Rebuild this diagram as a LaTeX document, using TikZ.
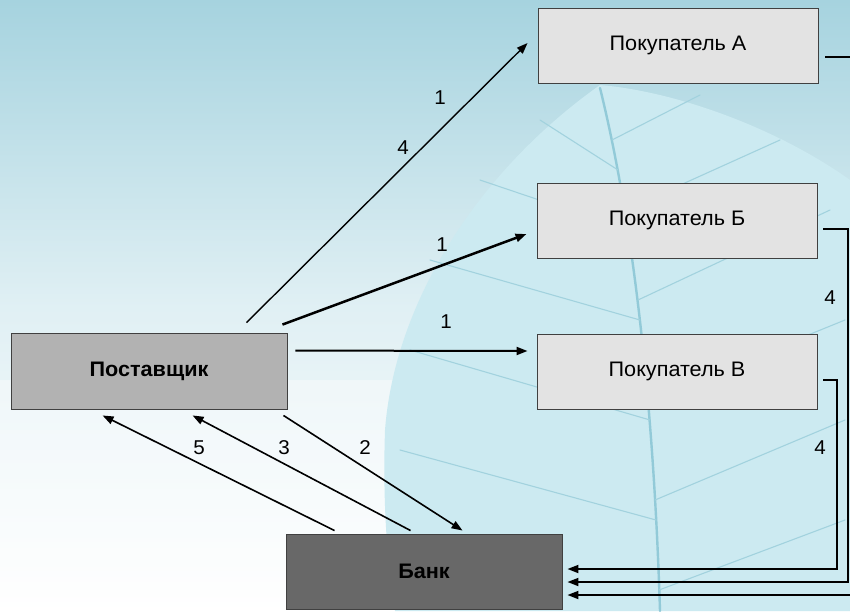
\documentclass[tikz,border=0pt]{standalone}
\usepackage{fontspec}
\setmainfont{Liberation Sans}
\newfontfamily\lab[FakeStretch=1.03]{Liberation Sans}
\usetikzlibrary{arrows.meta,calc}
\definecolor{skyb}{RGB}{166,211,223}
\definecolor{leaff}{RGB}{204,234,241}
\definecolor{veinc}{RGB}{146,202,216}
\definecolor{buyf}{RGB}{227,227,227}
\definecolor{supf}{RGB}{178,178,178}
\definecolor{bankf}{RGB}{104,104,104}
\tikzset{
  box/.style={draw=black!75, line width=0.9pt, minimum width=280pt, minimum height=75pt, inner sep=0pt, font=\lab\fontsize{21}{23}\selectfont},
  arr/.style={-{Triangle[length=11pt,width=8pt]}, line width=1.6pt, black},
  lbl/.style={font=\lab\fontsize{20}{22}\selectfont, inner sep=0pt},
  vein/.style={veinc, line width=2.4pt, line cap=round},
  thinvein/.style={veinc!85, line width=1.1pt, line cap=round}
}
\begin{document}
\begin{tikzpicture}[x=1pt,y=-1pt]
\useasboundingbox (0,0) rectangle (850,611);
\clip (0,0) rectangle (850,611);
% background
\shade[top color=skyb, bottom color=white, middle color=skyb!35] (0,0) rectangle (850,611);
\fill[white, opacity=0.35] (0,380) rectangle (850,611);
% leaf
\fill[leaff] (600,85) .. controls (480,170) and (395,300) .. (385,430) .. controls (382,520) and (390,580) .. (395,611) -- (850,611) -- (850,180) .. controls (780,130) and (680,92) .. (600,85) -- cycle;
\draw[vein] (600,88) .. controls (640,250) and (655,450) .. (660,611);
\draw[thinvein] (618,170) -- (540,120);
\draw[thinvein] (628,230) -- (480,180);
\draw[thinvein] (640,320) -- (430,260);
\draw[thinvein] (650,420) -- (410,350);
\draw[thinvein] (656,520) -- (400,450);
\draw[thinvein] (612,140) -- (700,95);
\draw[thinvein] (625,210) -- (780,140);
\draw[thinvein] (638,300) -- (830,210);
\draw[thinvein] (648,400) -- (845,320);
\draw[thinvein] (655,500) -- (845,420);
\draw[thinvein] (659,590) -- (845,520);
% nodes
\node[box, fill=buyf] (A) at (678,45.5) {Покупатель А};
\node[box, fill=buyf] (B) at (677,220.5) {Покупатель Б};
\node[box, fill=buyf] (V) at (677,371.5) {Покупатель В};
\node[box, fill=supf, minimum width=276pt, minimum height=76pt] (S) at (149,371) {\bfseries Поставщик};
\node[box, fill=bankf, minimum width=276pt] (K) at (424,571.5) {\bfseries Банк};
% connectors supplier -> buyers
\draw[arr, line width=1.4pt] ($(S.north west)+(236,-10)$) -- ($(A.west)+(-10,-2.5)$);
\draw[arr, line width=2.5pt] ($(S.north east)+(-5,-8)$) -- ($(B.west)+(-10,13.5)$);
\draw[arr, line width=2pt] ($(S.north east)+(8,18)$) -- ($(V.west)+(-9,-20.5)$);
% supplier <-> bank
\draw[arr] ($(S.south east)+(-4,6)$) -- ($(K.north west)+(177,-3)$);
\draw[arr] ($(K.north west)+(125,-3)$) -- ($(S.south west)+(182,6)$);
\draw[arr] ($(K.north west)+(49,-3)$) -- ($(S.south west)+(92,6)$);
% buyers -> bank
\draw[arr, line width=1.8pt] ($(A.east)+(7,11.5)$) -- (860,57) -- (860,595) -- ($(K.east)+(5,23.5)$);
\draw[arr, line width=1.8pt] ($(B.east)+(6,8.5)$) -- (848,229) -- (848,582) -- ($(K.east)+(5,10.5)$);
\draw[arr, line width=1.8pt] ($(V.east)+(6,8.5)$) -- (837,380) -- (837,569) -- ($(K.east)+(5,-2.5)$);
% labels
\node[lbl] (l1a) at (440,98) {1};
\node[lbl] (l4a) at (403,148) {4};
\node[lbl] (l1b) at (442,245) {1};
\node[lbl] (l1v) at (446,322) {1};
\node[lbl] (l2) at (365,448) {2};
\node[lbl] (l3) at (284,448) {3};
\node[lbl] (l5) at (199,448) {5};
\node[lbl] (l4b) at (830,298) {4};
\node[lbl] (l4v) at (820,448) {4};
\end{tikzpicture}
\end{document}
